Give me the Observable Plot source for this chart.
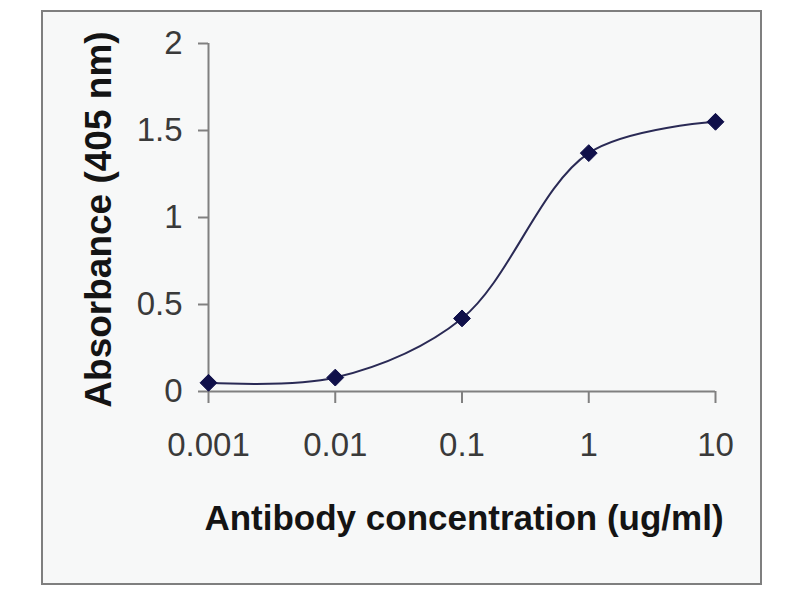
<!DOCTYPE html>
<html>
<head>
<meta charset="utf-8">
<script src="https://cdn.jsdelivr.net/npm/d3@7"></script>
<script src="https://cdn.jsdelivr.net/npm/@observablehq/plot@0.6"></script>
<style>
  html, body { margin: 0; padding: 0; background: #ffffff; width: 800px; height: 600px; overflow: hidden; }
  #frame { position: absolute; left: 41px; top: 10px; width: 717px; height: 571px; border: 2px solid #7f7f7f; background: #f7f8f8; }
  #chart { position: absolute; left: 0; top: 0; }
  #chart svg { background: transparent; }
</style>
</head>
<body>
<div id="frame"></div>
<div id="chart"></div>
<script>
const concentrations = [0.001, 0.01, 0.1, 1, 10];
const absorbance = [0.05, 0.08, 0.42, 1.37, 1.55];
const xTicks = [0.001, 0.01, 0.1, 1, 10];
const xTickLabels = ["0.001", "0.01", "0.1", "1", "10"];
const yTicks = [0, 0.5, 1, 1.5, 2];
const yTickLabels = ["0", "0.5", "1", "1.5", "2"];
const xTitle = "Antibody concentration (ug/ml)";
const yTitle = "Absorbance (405 nm)";

const data = concentrations.map((c, i) => ({c, a: absorbance[i]}));
const font = "Arial, 'Liberation Sans', Helvetica, sans-serif";

const chart = Plot.plot({
  width: 800,
  height: 600,
  marginLeft: 208,
  marginRight: 85,
  marginTop: 43,
  marginBottom: 209,
  style: {fontFamily: font, background: "transparent", overflow: "visible"},
  x: {type: "log", domain: [0.001, 10]},
  y: {domain: [0, 2]},
  marks: [
    Plot.ruleX([0.001], {y1: 0, y2: 2, stroke: "#808080", strokeWidth: 2}),
    Plot.ruleY([0], {x1: 0.001, x2: 10, stroke: "#808080", strokeWidth: 2}),
    Plot.axisY({
      ticks: yTicks,
      tickFormat: (d) => yTickLabels[yTicks.indexOf(d)],
      tickSize: 10,
      tickPadding: 16,
      fontSize: 33,
      stroke: "#808080",
      strokeWidth: 2,
      color: "#3a3a3a",
      label: null
    }),
    Plot.axisX({
      ticks: xTicks,
      tickFormat: (d) => xTickLabels[xTicks.indexOf(d)],
      tickSize: 12,
      tickPadding: 29,
      fontSize: 33,
      stroke: "#808080",
      strokeWidth: 2,
      color: "#3a3a3a",
      label: null
    }),
    Plot.line(data, {x: "c", y: "a", curve: "catmull-rom", stroke: "#2a2a55", strokeWidth: 2}),
    Plot.dot(data, {x: "c", y: "a", symbol: "diamond2", r: 7.6, fill: "#10104a", stroke: "#10104a", strokeWidth: 1}),
    Plot.text([xTitle], {frameAnchor: "bottom", textAnchor: "middle", lineAnchor: "bottom", dy: 138, dx: 2, fontSize: 35, fontWeight: "bold", fill: "#141414", text: (d) => d}),
    Plot.text([yTitle], {frameAnchor: "left", textAnchor: "middle", lineAnchor: "bottom", rotate: -90, dx: -98, dy: 2, fontSize: 37, fontWeight: "bold", fill: "#141414", text: (d) => d})
  ]
});
document.getElementById("chart").appendChild(chart);
</script>
</body>
</html>
